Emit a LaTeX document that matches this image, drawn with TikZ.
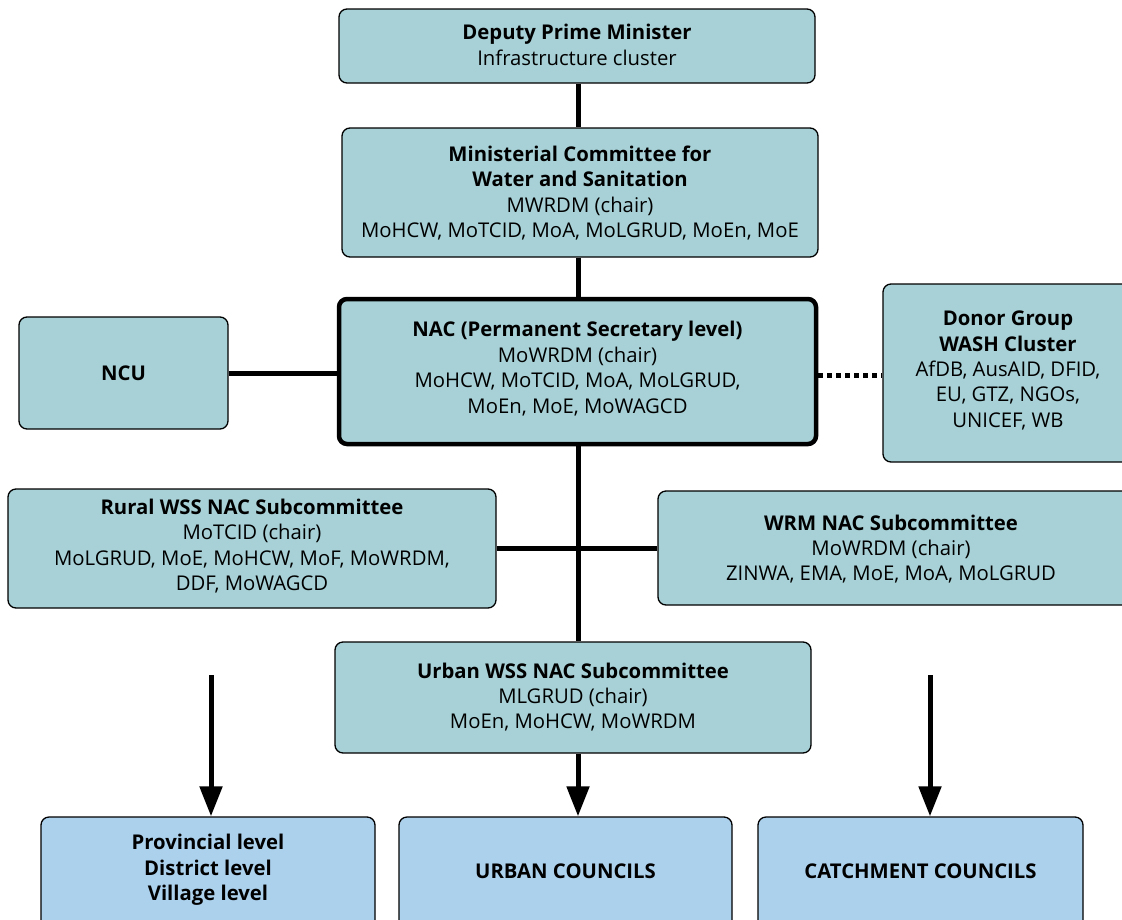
\documentclass[tikz,border=0pt]{standalone}
\usepackage{fontspec}
\setmainfont{Open Sans}
\usetikzlibrary{arrows.meta}
\definecolor{teal}{RGB}{167,209,214}
\definecolor{lblue}{RGB}{172,209,237}
\newcommand{\bx}{\fontsize{20.3}{25.4}\selectfont}
\tikzset{
  x=1pt,y=-1pt,
  box/.style={draw=black, line width=1.3pt, rounded corners=8pt, fill=teal, align=center, inner sep=0pt, font=\bx},
  lowbox/.style={box, fill=lblue},
  txt/.style={align=center, font=\bx, inner sep=0pt},
  conn/.style={line width=5pt},
  arr/.style={line width=5pt, -{Triangle[length=30pt,width=22pt]}},
}
\begin{document}
\begin{tikzpicture}
\useasboundingbox (0,0) rectangle (1122,919);
\clip (0,0) rectangle (1122,919);
% nodes
\node[box, minimum width=476pt, minimum height=74pt] (dpm) at (577,46) {};
\node[txt] (dpmtxt) at (577,45) {\textbf{Deputy Prime Minister}\\Infrastructure cluster};
\node[box, minimum width=476pt, minimum height=129pt] (min) at (580,192.5) {};
\node[txt] (mintxt) at (580,193) {\textbf{Ministerial Committee for}\\\textbf{Water and Sanitation}\\MWRDM (chair)\\MoHCW, MoTCID, MoA, MoLGRUD, MoEn, MoE};
\node[box, line width=4.5pt, minimum width=477pt, minimum height=145pt] (nac) at (577.5,371.5) {};
\node[txt] (nactxt) at (577.5,368.5) {\textbf{NAC (Permanent Secretary level)}\\MoWRDM (chair)\\MoHCW, MoTCID, MoA, MoLGRUD,\\MoEn, MoE, MoWAGCD};
\node[box, minimum width=209pt, minimum height=112pt] (ncu) at (123.5,373) {\textbf{NCU}};
\node[box, minimum width=260pt, minimum height=178pt] (donor) at (1013,373) {};
\node[txt] (donortxt) at (1008,370.5) {\textbf{Donor Group}\\\textbf{WASH Cluster}\\AfDB, AusAID, DFID,\\EU, GTZ, NGOs,\\UNICEF, WB};
\node[box, minimum width=488pt, minimum height=119pt] (rural) at (252,548.5) {};
\node[txt] (ruraltxt) at (252,546) {\textbf{Rural WSS NAC Subcommittee}\\MoTCID (chair)\\MoLGRUD, MoE, MoHCW, MoF, MoWRDM,\\DDF, MoWAGCD};
\node[box, minimum width=480pt, minimum height=114pt] (wrm) at (898,548) {};
\node[txt] (wrmtxt) at (891,549) {\textbf{WRM NAC Subcommittee}\\MoWRDM (chair)\\ZINWA, EMA, MoE, MoA, MoLGRUD};
\node[box, minimum width=476pt, minimum height=111pt] (urb) at (573,697.5) {};
\node[txt] (urbtxt) at (573,697) {\textbf{Urban WSS NAC Subcommittee}\\MLGRUD (chair)\\MoEn, MoHCW, MoWRDM};
\node[lowbox, minimum width=334pt, minimum height=130pt] (prov) at (208,882) {};
\node[txt] (provtxt) at (208,870) {\textbf{Provincial level}\\\textbf{District level}\\\textbf{Village level}};
\node[lowbox, minimum width=333pt, minimum height=130pt] (ucc) at (565.5,882) {};
\node[txt, font=\bx\bfseries] (ucctxt) at (565.5,871) {URBAN COUNCILS};
\node[lowbox, minimum width=325pt, minimum height=130pt] (cc) at (920.5,882) {};
\node[txt, font=\bx\bfseries] (cctxt) at (920.5,871) {CATCHMENT COUNCILS};
% connectors
\draw[conn] (dpm.south -| 578,0) -- (min.north -| 578,0);
\draw[conn] (min.south -| 578,0) -- (nac.north -| 578,0);
\draw[conn] (nac.south -| 578,0) -- (urb.north -| 578,0);
\draw[conn] (ncu.east) -- (nac.west |- ncu.east);
\draw[conn, dash pattern=on 5pt off 4pt] (nac.east |- 0,375) -- (donor.west |- 0,375);
\draw[conn] (rural.east) -- (wrm.west |- rural.east);
\coordinate (a1) at (211,675);
\coordinate (a3) at (930,675);
\draw[arr] (a1) -- (a1 |- prov.north);
\draw[arr] (urb.south -| 578,0) -- (ucc.north -| 578,0);
\draw[arr] (a3) -- (a3 |- cc.north);
\end{tikzpicture}
\end{document}
